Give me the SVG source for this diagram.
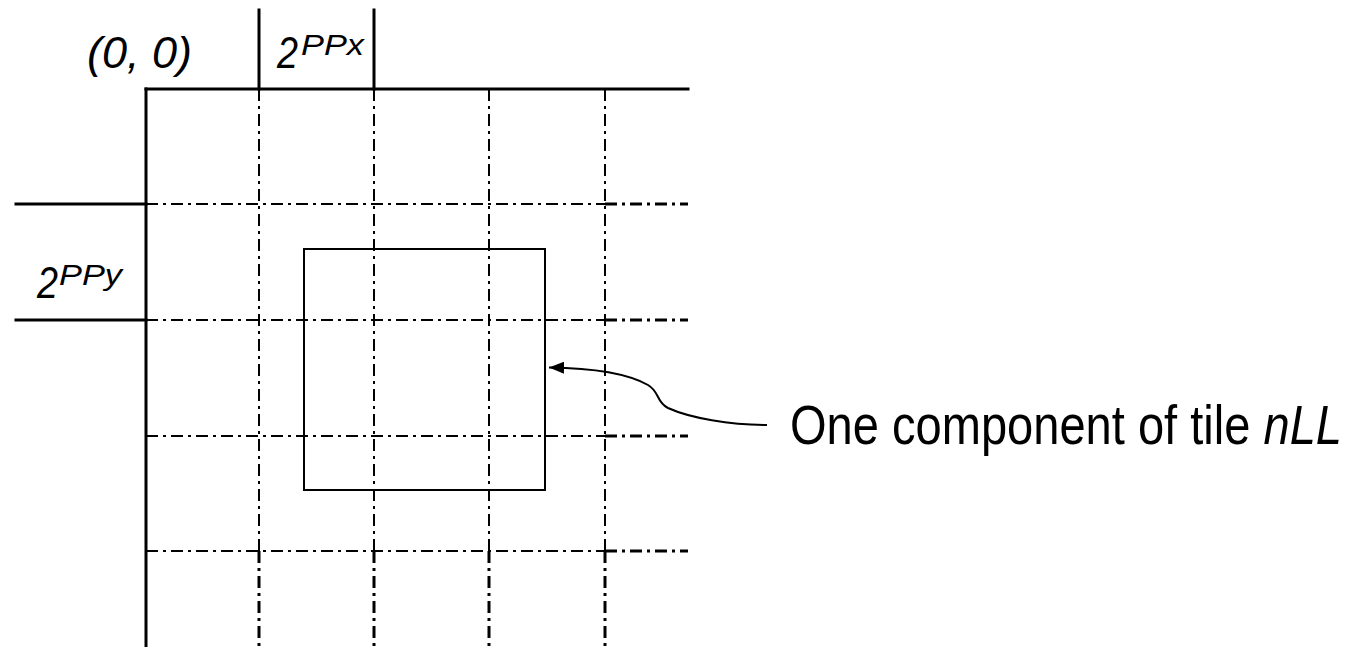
<svg xmlns="http://www.w3.org/2000/svg" width="1355" height="647" viewBox="0 0 1355 647">
<style>
.solid{stroke:#000;stroke-width:3;fill:none;stroke-linecap:square}
.dash{stroke:#000;stroke-width:2;fill:none;stroke-dasharray:12 5 3 5}
.dashb{stroke:#000;stroke-width:3;fill:none;stroke-dasharray:12 5 3 5}
.lbl{font-family:"Liberation Sans",Arial,sans-serif;fill:#000}
.it{font-style:italic}
</style>
<defs>
<marker id="ah" markerUnits="userSpaceOnUse" markerWidth="15" markerHeight="12" refX="15" refY="6" orient="auto">
<path d="M0,0 L15,6 L0,12 z" fill="#000"/>
</marker>
</defs>
<rect width="1355" height="647" fill="#fff"/>
<g id="grid">
<line class="dash" x1="259" y1="89" x2="259" y2="551"/>
<line class="dash" x1="374" y1="89" x2="374" y2="551"/>
<line class="dash" x1="489" y1="89" x2="489" y2="551"/>
<line class="dash" x1="605" y1="89" x2="605" y2="551"/>
<line class="dashb" x1="259" y1="551" x2="259" y2="647"/>
<line class="dashb" x1="374" y1="551" x2="374" y2="647"/>
<line class="dashb" x1="489" y1="551" x2="489" y2="647"/>
<line class="dashb" x1="605" y1="551" x2="605" y2="647"/>
<line class="dash" x1="146" y1="204" x2="605" y2="204"/>
<line class="dash" x1="146" y1="320" x2="605" y2="320"/>
<line class="dash" x1="146" y1="436" x2="605" y2="436"/>
<line class="dash" x1="146" y1="551" x2="605" y2="551"/>
<line class="dashb" x1="605" y1="204" x2="688" y2="204"/>
<line class="dashb" x1="605" y1="320" x2="688" y2="320"/>
<line class="dashb" x1="605" y1="436" x2="688" y2="436"/>
<line class="dashb" x1="605" y1="551" x2="688" y2="551"/>
</g>
<g id="axes">
<line class="solid" x1="146" y1="89" x2="146" y2="647"/>
<line class="solid" x1="146" y1="89" x2="688" y2="89"/>
<line class="solid" x1="16" y1="204" x2="146" y2="204"/>
<line class="solid" x1="16" y1="320" x2="146" y2="320"/>
<line class="solid" x1="259" y1="10" x2="259" y2="89"/>
<line class="solid" x1="374" y1="10" x2="374" y2="89"/>
</g>
<g id="component">
<rect x="304" y="249" width="241" height="241" fill="none" stroke="#000" stroke-width="2"/>
</g>
<g id="labels">
<text class="lbl it" x="87" y="68" font-size="45">(0, 0)</text>
<text class="lbl it" x="277" y="68" font-size="44" textLength="21" lengthAdjust="spacingAndGlyphs">2</text>
<text class="lbl it" x="301" y="55" font-size="30" textLength="63" lengthAdjust="spacingAndGlyphs">PPx</text>
<text class="lbl it" x="37" y="298" font-size="44" textLength="21" lengthAdjust="spacingAndGlyphs">2</text>
<text class="lbl it" x="59" y="285" font-size="30" textLength="63" lengthAdjust="spacingAndGlyphs">PPy</text>
</g>
<g id="callout">
<text class="lbl" x="790" y="444" font-size="55" textLength="552" lengthAdjust="spacingAndGlyphs">One component of tile <tspan class="it">nLL</tspan></text>
</g>
<g id="connectors">
<path d="M767,425 C730,425 690,418 668,408 C656,402 660,392 648,385 C625,372 590,368 549,367.5" fill="none" stroke="#000" stroke-width="2" marker-end="url(#ah)"/>
</g>
</svg>
